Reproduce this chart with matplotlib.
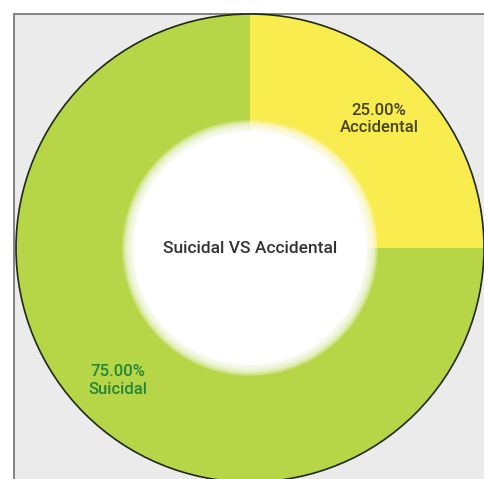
import matplotlib
matplotlib.use("Agg")
import matplotlib.pyplot as plt
from matplotlib.patches import Circle, Rectangle
import numpy as np

categories = ["Accidental", "Suicidal"]
values = [25, 75]
colors = ["#f8ec4e", "#b6d647"]
label_colors = ["#45421c", "#23853a"]
center_title = "Suicidal VS Accidental"

W, H = 484, 479
fig = plt.figure(figsize=(W / 100, H / 100), dpi=100)
fig.patch.set_facecolor("white")
ax = fig.add_axes([0, 0, 1, 1])

cx, cy, R = 250, H - 248, 234
total = sum(values)

wedges, texts = ax.pie(values, colors=colors, startangle=90, counterclock=False,
                       radius=R, center=(cx, cy), frame=True,
                       wedgeprops=dict(linewidth=0, zorder=2))
ax.set_xlim(0, W)
ax.set_ylim(0, H)
ax.set_aspect("equal")
ax.axis("off")

# gray panel
ax.add_patch(Rectangle((14, -10), W + 20, H - 14 + 10, facecolor="#ebebeb",
                       edgecolor="#7a7a7a", linewidth=1.3, zorder=0))

# outer outline
ax.add_patch(Circle((cx, cy), R, facecolor="none", edgecolor="#1e2a14",
                    linewidth=1.2, zorder=3))

# soft white hole
r_in, r_out = 117, 128
n = 12
for r in np.linspace(r_out, r_in, n):
    ax.add_patch(Circle((cx, cy), r, facecolor="white", edgecolor="none",
                        alpha=0.2, zorder=4))
ax.add_patch(Circle((cx, cy), r_in, facecolor="white", edgecolor="none", zorder=5))

# labels
dists = [0.78, 0.80]
start = 90.0
for cat, v, col, d in zip(categories, values, label_colors, dists):
    ang = start - v / total * 360 / 2
    start -= v / total * 360
    x = cx + d * R * np.cos(np.radians(ang))
    y = cy + d * R * np.sin(np.radians(ang))
    ax.text(x, y, f"{v / total * 100:.2f}%\n{cat}", ha="center", va="center",
            color=col, fontsize=12, family="Roboto", fontweight="medium",
            linespacing=1.2, zorder=6)

ax.text(cx, cy, center_title, ha="center", va="center", color="#333333",
        fontsize=12.5, family="Roboto", fontweight="medium", zorder=6)

fig.savefig("out.png", dpi=100)
